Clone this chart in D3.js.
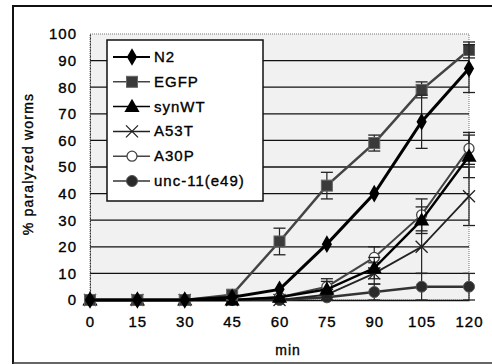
<!DOCTYPE html>
<html><head><meta charset="utf-8">
<script src="https://cdn.jsdelivr.net/npm/d3@7"></script>
<style>body{margin:0;background:#fff}svg{display:block}text{font-family:"Liberation Sans",Arial,sans-serif;fill:#000;stroke:#000;stroke-width:0.35px;letter-spacing:1px}</style>
</head><body><svg id="c" width="492" height="364"></svg>
<script>
const times = [0, 15, 30, 45, 60, 75, 90, 105, 120];
const yTicks = [0, 10, 20, 30, 40, 50, 60, 70, 80, 90, 100];
const seriesNames = ["N2", "EGFP", "synWT", "A53T", "A30P", "unc-11(e49)"];
const n2 = [0, 0, 0, 1, 4, 21, 40, 67, 87];
const n2Err = [0, 0, 0, 0, 0, 0, 0, 10, 9];
const egfp = [0, 0, 0, 2, 22, 43, 59, 79, 94];
const egfpErr = [0, 0, 0, 0, 5, 5, 3, 3, 3];
const synWT = [0, 0, 0, 0, 1, 4, 12, 30, 54];
const synWTErr = [0, 0, 0, 0, 0, 3, 4, 5, 8];
const a53t = [0, 0, 0, 0, 0, 2, 10, 20, 39];
const a53tErr = [0, 0, 0, 0, 0, 2, 4, 10, 11];
const a30p = [0, 0, 0, 0, 1, 5, 16, 32, 57];
const a30pErr = [0, 0, 0, 0, 0, 3, 4, 6, 6];
const unc11 = [0, 0, 0, 0, 0, 1, 3, 5, 5];
const unc11Err = [0, 0, 0, 0, 0, 0, 3, 5, 5];

const svg = d3.select("#c");
const x = d3.scaleLinear().domain([0, 120]).range([90, 469]);
const y = d3.scaleLinear().domain([0, 100]).range([300, 34]);

// outer frame
svg.append("path").attr("d", "M13,364 L13,6 L492,6").attr("fill","none").attr("stroke","#111").attr("stroke-width",2);
svg.append("line").attr("x1",13).attr("x2",492).attr("y1",363).attr("y2",363).attr("stroke","#333").attr("stroke-width",1.5);

// plot background
svg.append("rect").attr("x", x(0)).attr("y", y(100)).attr("width", x(120)-x(0)).attr("height", y(0)-y(100))
  .attr("fill", "#f1f1f1").attr("stroke", "#777").attr("stroke-dasharray", "1,1");

// gridlines
svg.append("g").selectAll("line").data(yTicks.filter(d => d > 0 && d < 100)).join("line")
  .attr("x1", x(0)).attr("x2", x(120)).attr("y1", d => y(d)).attr("y2", d => y(d))
  .attr("stroke", "#111").attr("stroke-width", 1.3);

// y axis
const yAxis = d3.axisLeft(y).tickValues(yTicks).tickSize(0).tickPadding(13);
const gy = svg.append("g").attr("transform", `translate(${x(0)},0)`).call(yAxis);
gy.select(".domain").attr("stroke", "#333").attr("stroke-dasharray", "2,1");
gy.selectAll("text").attr("font-size", 15).style("font-family", "Liberation Sans, Arial");

// x axis
const xAxis = d3.axisBottom(x).tickValues(times).tickSize(0).tickPadding(16);
const gx = svg.append("g").attr("transform", `translate(0,${y(0)})`).call(xAxis);
gx.select(".domain").attr("stroke", "#111").attr("stroke-width", 1.5);
gx.selectAll("text").attr("font-size", 15).style("font-family", "Liberation Sans, Arial");

svg.append("text").attr("x", 288).attr("y", 355).attr("text-anchor", "middle").attr("font-size", 14).text("min");
svg.append("text").attr("transform", "translate(33,164) rotate(-90)").attr("text-anchor", "middle").attr("font-size", 14).style("letter-spacing", "1.2px").text("% paralyzed worms");

const series = [
  {name: seriesNames[0], v: n2, e: n2Err, color: "#000", w: 3, sym: "diamond"},
  {name: seriesNames[1], v: egfp, e: egfpErr, color: "#444", w: 2.5, sym: "square"},
  {name: seriesNames[2], v: synWT, e: synWTErr, color: "#000", w: 2.5, sym: "triangle"},
  {name: seriesNames[3], v: a53t, e: a53tErr, color: "#222", w: 1.8, sym: "x"},
  {name: seriesNames[4], v: a30p, e: a30pErr, color: "#444", w: 2, sym: "open"},
  {name: seriesNames[5], v: unc11, e: unc11Err, color: "#333", w: 2.5, sym: "circle"}
];

function drawMarker(g, s, cx, cy) {
  if (s.sym === "diamond") g.append("path").attr("d", d3.symbol(d3.symbolDiamond, 90)()).attr("transform", `translate(${cx},${cy})`).attr("fill", "#000");
  else if (s.sym === "square") g.append("rect").attr("x", cx-5.5).attr("y", cy-5.5).attr("width", 11).attr("height", 11).attr("fill", "#3a3a3a").attr("stroke","#666");
  else if (s.sym === "triangle") g.append("path").attr("d", d3.symbol(d3.symbolTriangle, 100)()).attr("transform", `translate(${cx},${cy+1})`).attr("fill", "#000");
  else if (s.sym === "x") g.append("path").attr("d", `M${cx-6},${cy-6}L${cx+6},${cy+6}M${cx-6},${cy+6}L${cx+6},${cy-6}`).attr("stroke", "#222").attr("stroke-width", 1.3);
  else if (s.sym === "open") g.append("circle").attr("cx", cx).attr("cy", cy).attr("r", 5).attr("fill", "#fff").attr("stroke", "#444").attr("stroke-width", 1.3);
  else g.append("circle").attr("cx", cx).attr("cy", cy).attr("r", 5.5).attr("fill", "#2a2a2a").attr("stroke","#555");
}

const line = d3.line().x((d, i) => x(times[i])).y(d => y(d));
const order = [5, 3, 4, 2, 1, 0];
order.forEach(si => {
  const s = series[si];
  const g = svg.append("g");
  s.v.forEach((v, i) => {
    if (!s.e[i]) return;
    const cx = x(times[i]);
    g.append("line").attr("x1", cx).attr("x2", cx).attr("y1", y(v + s.e[i])).attr("y2", y(Math.max(0, v - s.e[i]))).attr("stroke", "#222").attr("stroke-width", 1.2);
    [v + s.e[i], Math.max(0, v - s.e[i])].forEach(t => g.append("line").attr("x1", cx-6).attr("x2", cx+6).attr("y1", y(t)).attr("y2", y(t)).attr("stroke", "#222").attr("stroke-width", 1.3));
  });
  g.append("path").datum(s.v).attr("d", line).attr("fill", "none").attr("stroke", s.color).attr("stroke-width", s.w);
  s.v.forEach((v, i) => drawMarker(g, s, x(times[i]), y(v)));
});

// legend
const lg = svg.append("g");
lg.append("rect").attr("x", 107).attr("y", 40).attr("width", 156).attr("height", 161).attr("fill", "#fff").attr("stroke", "#111").attr("stroke-width", 1.5);
series.forEach((s, i) => {
  const cy = 57 + i * 24.8;
  lg.append("line").attr("x1", 113).attr("x2", 150).attr("y1", cy).attr("y2", cy).attr("stroke", s.color).attr("stroke-width", s.sym === "diamond" ? 2 : 1.5);
  drawMarker(lg, s, 132, cy);
  lg.append("text").attr("x", 154).attr("y", cy + 5).attr("font-size", 15).text(s.name);
});
</script></body></html>
